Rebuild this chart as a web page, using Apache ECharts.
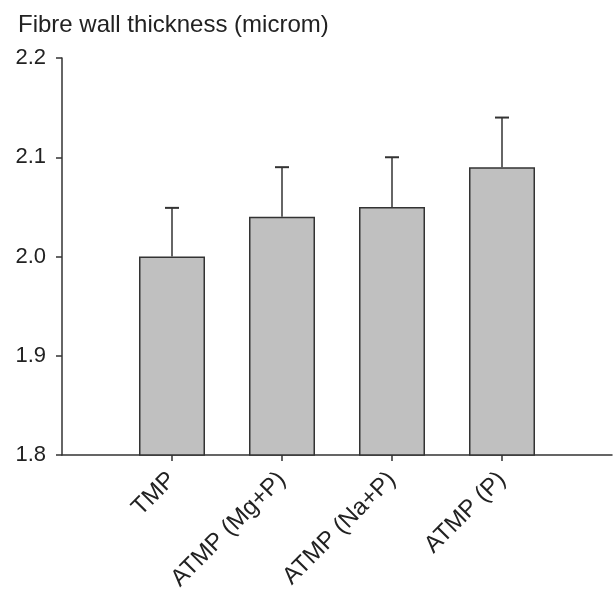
<!DOCTYPE html>
<html>
<head>
<meta charset="utf-8">
<script src="https://cdn.jsdelivr.net/npm/echarts@6/dist/echarts.min.js"></script>
<style>
  html, body { margin: 0; padding: 0; background: #fff; }
  #chart { width: 614px; height: 599px; }
</style>
</head>
<body>
<div id="chart"></div>
<script>
// Fibre wall thickness per pulp treatment, with upper error bars
var categories = ['TMP', 'ATMP (Mg+P)', 'ATMP (Na+P)', 'ATMP (P)'];
var means = [2.00, 2.04, 2.05, 2.09];
var errors = [0.049, 0.05, 0.05, 0.05];
var yTicks = [1.8, 1.9, 2.0, 2.1, 2.2];

var positions = categories.map(function (c, i) { return i + 1; });
var barData = positions.map(function (p, i) { return [p, means[i]]; });
var errData = positions.map(function (p, i) { return [p, means[i], means[i] + errors[i]]; });

var font = 'Liberation Sans, Arial, sans-serif';
var ink = '#333333';

var chart = echarts.init(document.getElementById('chart'));
chart.setOption({
  animation: false,
  backgroundColor: '#ffffff',
  title: {
    text: 'Fibre wall thickness (microm)',
    left: 13,
    top: 8,
    textStyle: { fontFamily: font, fontSize: 24, fontWeight: 'normal', color: '#222' }
  },
  grid: { left: 62, right: 2, top: 58, bottom: 144, containLabel: false },
  xAxis: {
    type: 'value',
    min: 0,
    max: categories.length + 1,
    interval: 1,
    splitLine: { show: false },
    axisLine: { lineStyle: { color: ink, width: 1.5 } },
    axisTick: { show: true, length: 6, customValues: positions, lineStyle: { color: ink, width: 1.5 } },
    axisLabel: {
      customValues: positions,
      rotate: 45,
      margin: 21,
      fontFamily: font,
      fontSize: 24,
      color: '#222',
      formatter: function (v) { return categories[v - 1] || ''; }
    }
  },
  yAxis: {
    type: 'value',
    min: yTicks[0],
    max: yTicks[yTicks.length - 1],
    interval: 0.1,
    splitLine: { show: false },
    axisLine: { show: true, lineStyle: { color: ink, width: 1.5 } },
    axisTick: { show: true, length: 6, lineStyle: { color: ink, width: 1.5 } },
    axisLabel: {
      margin: 16,
      fontFamily: font,
      fontSize: 22,
      color: '#222',
      formatter: function (v) { return v.toFixed(1); }
    }
  },
  series: [
    {
      type: 'bar',
      data: barData,
      barWidth: 66,
      itemStyle: { color: '#c0c0c0', borderColor: ink, borderWidth: 1.5 },
      z: 2
    },
    {
      type: 'custom',
      data: errData,
      z: 3,
      renderItem: function (params, api) {
        var x = api.value(0);
        var base = api.coord([x, api.value(1)]);
        var top = api.coord([x, api.value(2)]);
        var half = 7;
        return {
          type: 'group',
          children: [
            { type: 'line', shape: { x1: base[0], y1: base[1], x2: top[0], y2: top[1] },
              style: { stroke: ink, lineWidth: 1.5 } },
            { type: 'line', shape: { x1: top[0] - half, y1: top[1], x2: top[0] + half, y2: top[1] },
              style: { stroke: ink, lineWidth: 2 } }
          ]
        };
      }
    }
  ]
});
</script>
</body>
</html>
